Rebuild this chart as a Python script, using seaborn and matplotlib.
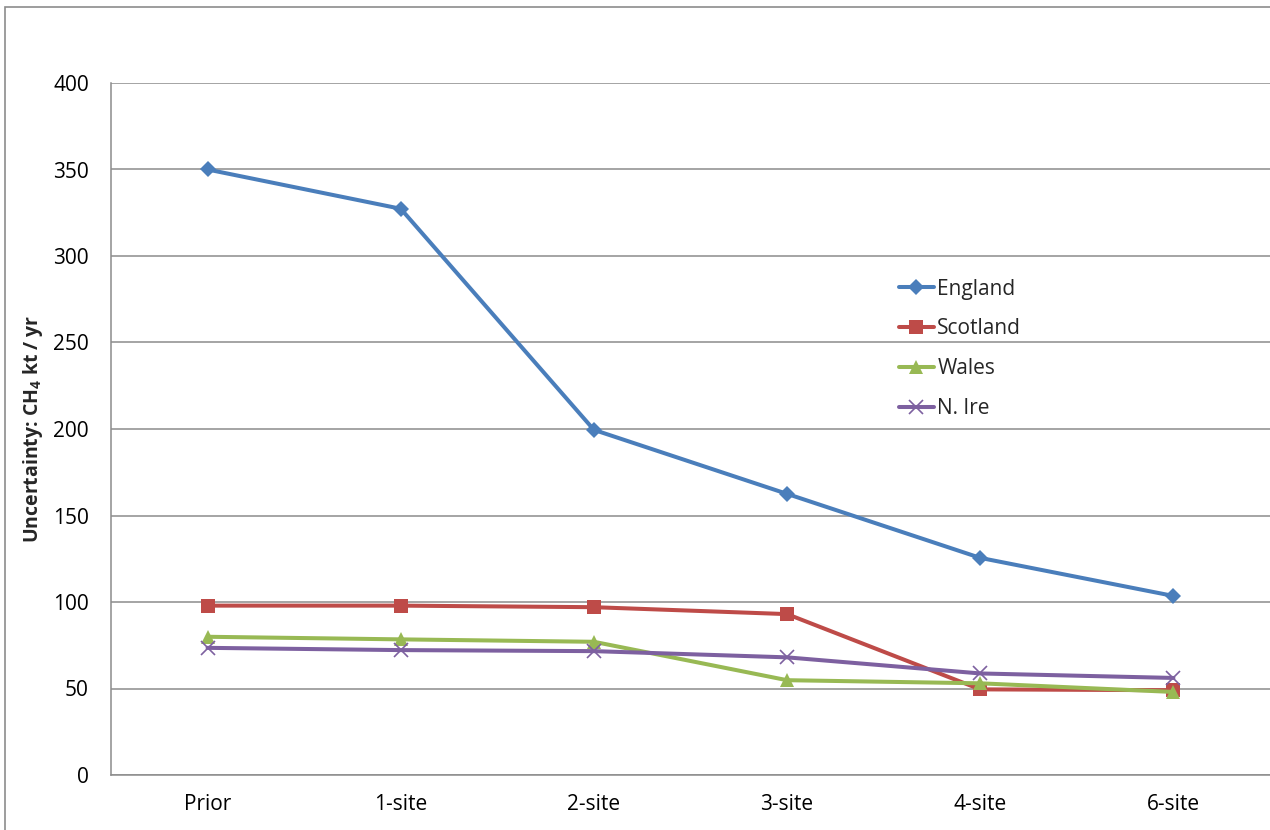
import matplotlib
matplotlib.use("Agg")
import matplotlib.pyplot as plt
from matplotlib.patches import Rectangle
import pandas as pd
import seaborn as sns

# Uncertainty of CH4 emission estimates by region and observing network size
categories = ["Prior", "1-site", "2-site", "3-site", "4-site", "6-site"]
england = [350.0, 327.3, 199.5, 162.5, 125.5, 103.5]
scotland = [97.9, 97.9, 97.0, 93.0, 49.5, 49.0]
wales = [79.9, 78.4, 77.0, 54.8, 53.0, 48.0]
n_ire = [73.5, 72.2, 71.6, 68.0, 58.7, 56.1]
regions = ["England", "Scotland", "Wales", "N. Ire"]
y_ticks = [0, 50, 100, 150, 200, 250, 300, 350, 400]

series = {"England": england, "Scotland": scotland, "Wales": wales, "N. Ire": n_ire}
df = pd.DataFrame(
    [(r, c, v) for r in regions for c, v in zip(categories, series[r])],
    columns=["region", "network", "uncertainty"],
)
df["pos"] = df["network"].map({c: i for i, c in enumerate(categories)})

sns.set_theme(style="white")
plt.rcParams["font.family"] = ["Open Sans", "DejaVu Sans"]
plt.rcParams["mathtext.default"] = "regular"

palette = {"England": "#4A7EBB", "Scotland": "#BE4B48", "Wales": "#98B954", "N. Ire": "#7D60A0"}
markers = {"England": "D", "Scotland": "s", "Wales": "^", "N. Ire": "x"}
msizes = {"England": 8, "Scotland": 10, "Wales": 10, "N. Ire": 10}

fig = plt.figure(figsize=(12.7, 8.3), dpi=100)
ax = fig.add_axes([111 / 1270, 55 / 830, 1159 / 1270, 692 / 830])

for r in regions:
    sub = df[df["region"] == r]
    sns.lineplot(
        data=sub, x="pos", y="uncertainty", ax=ax, color=palette[r],
        marker=markers[r], markersize=msizes[r], linewidth=2.9, label=r,
        markeredgewidth=1.2 if r == "N. Ire" else 0, markeredgecolor=palette[r],
        sort=False,
    )

ax.set_xlim(-0.5, 5.5)
ax.set_ylim(0, 400)
ax.set_xticks(range(len(categories)))
ax.set_xticklabels(categories)
ax.set_yticks(y_ticks)
ax.set_xlabel("")
ax.set_ylabel(r"Uncertainty: CH$_4$ kt / yr", fontsize=14, fontweight="bold")
ax.yaxis.set_label_coords(-66 / 1159, 0.5)
ax.tick_params(axis="both", length=0, labelsize=15, colors="black")
ax.tick_params(axis="y", pad=16)
ax.tick_params(axis="x", pad=14)

ax.yaxis.grid(True, color="#8c8c8c", linewidth=1.1)
ax.xaxis.grid(False)
for side in ["top", "right"]:
    ax.spines[side].set_visible(False)
for side in ["left", "bottom"]:
    ax.spines[side].set_color("#8c8c8c")
    ax.spines[side].set_linewidth(1.1)

leg = ax.legend(
    loc="upper left", bbox_to_anchor=(880 / 1270, 1 - 260 / 830),
    bbox_transform=fig.transFigure, frameon=False, fontsize=15,
    handlelength=1.7, handletextpad=0.15, labelspacing=0.9,
)

fig.patches.append(Rectangle((5 / 1270, -0.01), 1.02, 1 - 7 / 830 + 0.01,
                             transform=fig.transFigure, fill=False,
                             edgecolor="#8c8c8c", linewidth=1.2, zorder=0))

fig.savefig("out.png", dpi=100)
